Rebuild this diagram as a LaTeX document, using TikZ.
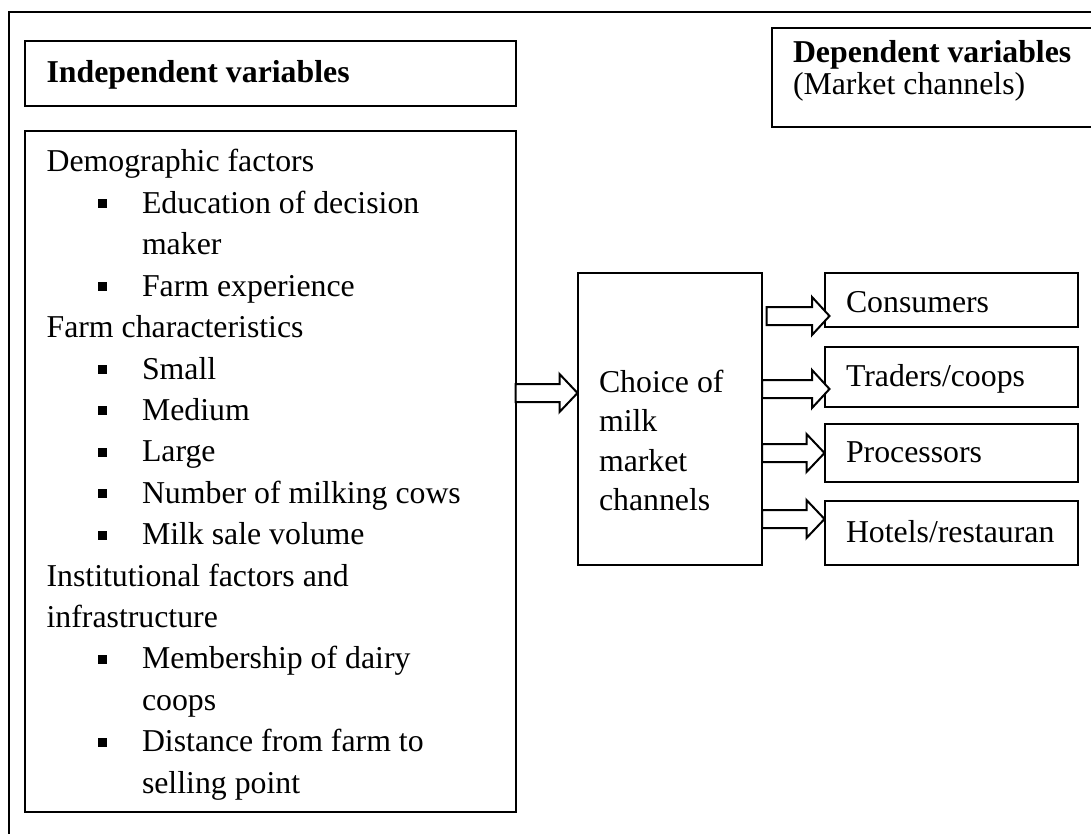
\documentclass[tikz,border=0pt]{standalone}
\usepackage{fontspec}
\setmainfont{Liberation Serif}
\usetikzlibrary{calc}
\tikzset{
  box/.style={draw=black, line width=2pt, rectangle, inner sep=0pt, outer sep=0pt, anchor=north west},
  txt/.style={anchor=base west, inner sep=0pt, outer sep=0pt},
  bul/.style={rectangle, fill=black, minimum size=9pt, inner sep=0pt, outer sep=0pt},
  arrowbox/.style={draw=black, fill=white, line width=2pt, line join=miter},
  frame/.style={draw=black, line width=2pt}
}
% block arrow: #1 from node, #2 to node, #3 centre y, #4 start offset, #5 head-base offset, #6 tip offset
\newcommand\blockarr[6]{%
  \path[arrowbox] let \p1=(#1.east), \p2=(#2.west) in
    ({\x1+#4pt},{-#3pt+9pt}) -- ({\x2+#5pt},{-#3pt+9pt}) -- ({\x2+#5pt},{-#3pt+19pt})
    -- ({\x2+#6pt},{-#3pt}) -- ({\x2+#5pt},{-#3pt-19pt}) -- ({\x2+#5pt},{-#3pt-9pt})
    -- ({\x1+#4pt},{-#3pt-9pt}) -- cycle;}
\begin{document}
\begin{tikzpicture}[x=1pt, y=-1pt, font=\fontsize{31.8}{41.4}\selectfont]
\useasboundingbox (0,0) rectangle (1091,834);
\fill[white] (0,0) rectangle (1091,834);
% outer frame (top and left visible)
\coordinate (fbl) at (9,850);
\coordinate (ftl) at (9,12);
\coordinate (ftr) at (1110,12);
\draw[frame] (fbl) -- (ftl) -- (ftr);

% boxes
\node[box, minimum width=491pt, minimum height=65pt] (ind) at (24.5,41) {};
\node[box, minimum width=340pt, minimum height=99pt] (dep) at (772,28) {};
\node[box, minimum width=491pt, minimum height=681pt] (left) at (24.5,131) {};
\node[box, minimum width=184.5pt, minimum height=292pt] (choice) at (577.5,273) {};
\node[box, minimum width=253.5pt, minimum height=54pt] (cons) at (824.5,273) {};
\node[box, minimum width=253.5pt, minimum height=60pt] (trad) at (824.5,347) {};
\node[box, minimum width=253.5pt, minimum height=58pt] (proc) at (824.5,424) {};
\node[box, minimum width=253.5pt, minimum height=64pt] (hotel) at (824.5,501) {};

% arrows
\blockarr{left}{choice}{393}{0}{-18}{0}
\blockarr{choice}{cons}{316}{4.5}{-12.5}{5}
\blockarr{choice}{trad}{389}{0}{-12.5}{5}
\blockarr{choice}{proc}{453}{0}{-18}{0}
\blockarr{choice}{hotel}{519}{0}{-18}{0}

% headings
\node[txt] (indt) at (46.6,83) {\textbf{Independent variables}};
\node[txt] (dept) at (793,63) {\textbf{Dependent variables}};
\node[txt] (dept2) at (793,95) {(Market channels)};

% left box content
\foreach \t/\s [count=\i from 0] in {0/Demographic factors, 1/Education of decision, 2/maker, 1/Farm experience, 0/Farm characteristics, 1/Small, 1/Medium, 1/Large, 1/Number of milking cows, 1/Milk sale volume, 0/Institutional factors and, 0/infrastructure, 1/Membership of dairy, 2/coops, 1/Distance from farm to, 2/selling point}{
  \pgfmathsetmacro\yy{172+41.4*\i}
  \ifnum\t=0
    \node[txt] (ln\i) at (46.6,\yy) {\s};
  \else
    \node[txt] (ln\i) at (142,\yy) {\s};
  \fi
  \ifnum\t=1
    \node[bul] (bu\i) at (102,\yy-9.5) {};
  \fi
}

% choice text
\node[txt] (c1) at (599,392) {Choice of};
\node[txt] (c2) at (599,431.5) {milk};
\node[txt] (c3) at (599,471) {market};
\node[txt] (c4) at (599,510.5) {channels};

% channel texts
\node[txt] (t1) at (846,312) {Consumers};
\node[txt] (t2) at (846,386) {Traders/coops};
\node[txt] (t3) at (846,462) {Processors};
\node[txt] (t4) at (846,542) {Hotels/restauran};
\end{tikzpicture}
\end{document}
